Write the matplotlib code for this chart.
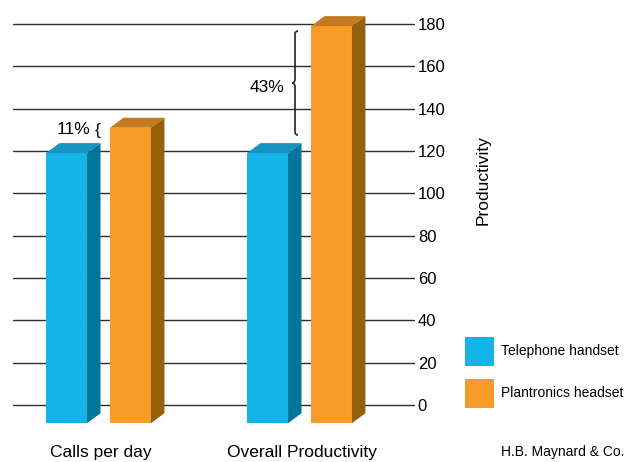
import matplotlib
matplotlib.use("Agg")
import matplotlib.pyplot as plt
from matplotlib.patches import Polygon, Rectangle
from matplotlib.path import Path
from matplotlib.patches import PathPatch

plt.rcParams['font.family'] = ['Liberation Sans', 'DejaVu Sans']

# datos
categorias = ['Calls per day', 'Overall Productivity']
telefono = [119, 119]
plantronics = [131, 179]
series = ['Telephone handset', 'Plantronics headset']
yticks = [0, 20, 40, 60, 80, 100, 120, 140, 160, 180]
notas = ['11%', '43%']

# estilo 3D
base = -8.6
ancho = 0.204
sep = 0.159
dx = 0.067
dy = 4.72
col_front = ['#14B4E8', '#F79C28']
col_side = ['#02759B', '#97600C']
col_top = ['#1594C2', '#C57A1F']

W, H = 636, 462
fig = plt.figure(figsize=(W / 100, H / 100), dpi=100)

# px -> datos
def X(px):
    return (px - 98.5) / 201.0

def Y(py):
    return (405 - py) / 2.1167

x0, x1 = X(13), X(415)
y0, y1 = -12, 186
bottom_px = 405 - 2.1167 * y0
top_px = 405 - 2.1167 * y1
ax = fig.add_axes([13 / W, 1 - bottom_px / H, (415 - 13) / W, (bottom_px - top_px) / H])
ax.set_xlim(x0, x1)
ax.set_ylim(y0, y1)
for s in ax.spines.values():
    s.set_visible(False)
ax.set_xticks([])
ax.yaxis.tick_right()
ax.set_yticks(yticks)
ax.set_yticklabels([str(v) for v in yticks], fontsize=12)
ax.tick_params(axis='y', length=0, pad=2)
for v in yticks:
    ax.axhline(v, color='#2e2e2e', lw=1.0, zorder=1)

pos = list(range(len(categorias)))
for k, vals in enumerate([telefono, plantronics]):
    xs = [p + (sep if k else -sep) for p in pos]
    alturas = [v - base for v in vals]
    ax.bar(xs, alturas, width=ancho, bottom=base, color=col_front[k], zorder=3)
    for xc, v in zip(xs, vals):
        xl, xr = xc - ancho / 2, xc + ancho / 2
        ax.add_patch(Polygon([(xl, v), (xr, v), (xr + dx, v + dy), (xl + dx, v + dy)],
                             closed=True, color=col_top[k], zorder=3, lw=0))
        ax.add_patch(Polygon([(xr, base), (xr + dx, base + dy), (xr + dx, v + dy), (xr, v)],
                             closed=True, color=col_side[k], zorder=3, lw=0))

# etiquetas de categoria
for p, c in zip(pos, categorias):
    ax.text(p + 0.01, Y(453), c, ha='center', va='center', fontsize=12.5)

# anotaciones
ax.text(X(90), Y(129), notas[0], ha='right', va='center', fontsize=12.5)
ax.text(X(95), Y(130), '{', ha='left', va='center', fontsize=12.5)
ax.text(X(284), Y(87), notas[1], ha='right', va='center', fontsize=12.5)

bx, top_b, bot_b, mid_b = 295, 31, 135, 83
pts = [(bx + 3, top_b), (bx, top_b), (bx, top_b + 3),
       (bx, mid_b - 4), (bx, mid_b), (bx - 3, mid_b),
       (bx, mid_b), (bx, mid_b + 4),
       (bx, bot_b - 3), (bx, bot_b), (bx + 3, bot_b)]
codes = [Path.MOVETO, Path.CURVE3, Path.CURVE3,
         Path.LINETO, Path.CURVE3, Path.CURVE3,
         Path.CURVE3, Path.CURVE3,
         Path.LINETO, Path.CURVE3, Path.CURVE3]
ax.add_patch(PathPatch(Path([(X(a), Y(b)) for a, b in pts], codes),
                       fill=False, lw=1.2, color='#222222', zorder=4, clip_on=False))

# eje y
fig.text(483 / W, 1 - 180 / H, 'Productivity', rotation=90, ha='center', va='center', fontsize=12.5)

# leyenda
for k, nombre in enumerate(series):
    yc = 351 + 42 * k
    fig.add_artist(Rectangle((465 / W, 1 - (yc + 14.5) / H), 29 / W, 29 / H,
                             transform=fig.transFigure, color=col_front[k], lw=0))
    fig.text(501 / W, 1 - yc / H, nombre, ha='left', va='center', fontsize=10)

fig.text(501 / W, 1 - 452 / H, 'H.B. Maynard & Co.', ha='left', va='center', fontsize=10)

fig.savefig('out.png', dpi=100)
